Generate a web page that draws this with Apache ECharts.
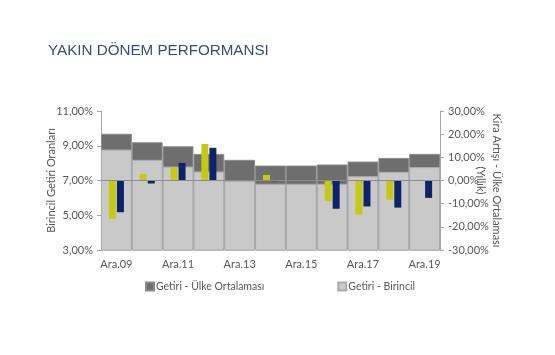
<!DOCTYPE html>
<html>
<head>
<meta charset="utf-8">
<script src="https://cdn.jsdelivr.net/npm/echarts@6/dist/echarts.min.js"></script>
<style>
html,body{margin:0;padding:0;background:#fff;}
#c{width:555px;height:355px;}
</style>
</head>
<body>
<div id="c"></div>
<script>
const categories = ['Ara.09','Ara.10','Ara.11','Ara.12','Ara.13','Ara.14','Ara.15','Ara.16','Ara.17','Ara.18','Ara.19'];
const yieldAverage = [9.69, 9.20, 8.97, 8.53, 8.19, 7.86, 7.86, 7.92, 8.09, 8.30, 8.53];
const yieldPrime   = [8.78, 8.19, 7.80, 7.52, 6.98, 6.81, 6.81, 6.81, 7.25, 7.50, 7.77];
const rentPrime    = [-16.5, 2.9, 5.7, 15.8, 0, 2.4, 0, -8.9, -14.7, -8.3, 0];
const rentAverage  = [-13.7, -1.3, 7.6, 14.1, 0, -0.3, -0.2, -12.2, -11.2, -11.7, -7.5];
const leftTicks = {min: 3, max: 11, interval: 2};
const rightTicks = {min: -30, max: 30, interval: 10};

const font = 'Lato, "Open Sans", sans-serif';
const chart = echarts.init(document.getElementById('c'), null, {renderer: 'canvas'});
const fmt = v => v.toFixed(2).replace('.', ',') + '%';

chart.setOption({
  animation: false,
  backgroundColor: '#ffffff',
  title: {
    text: 'YAKIN DÖNEM PERFORMANSI',
    left: 43, top: 38,
    textStyle: {color: '#34507a', fontSize: 15.2, fontWeight: 'normal', fontFamily: 'Arial, "Liberation Sans", sans-serif'}
  },
  legend: {
    data: ['Getiri - Ülke Ortalaması', 'Getiri - Birincil'],
    left: 140, top: 276,
    itemWidth: 8, itemHeight: 8, itemGap: 73,
    icon: 'rect',
    textStyle: {color: '#595959', fontSize: 10.5, fontFamily: font, padding: [0, 0, 0, -3]}
  },
  grid: {left: 101, right: 115, top: 111, bottom: 105, containLabel: false},
  xAxis: [{
    type: 'category',
    data: categories,
    boundaryGap: true,
    axisLine: {lineStyle: {color: '#a6a6a6'}},
    axisTick: {show: true, alignWithLabel: false, interval: 0, length: 4, lineStyle: {color: '#a6a6a6'}},
    axisLabel: {interval: 1, color: '#595959', fontSize: 11, fontFamily: font, margin: 9}
  }, {
    type: 'category',
    data: categories,
    show: false
  }],
  yAxis: [{
    type: 'value',
    min: leftTicks.min, max: leftTicks.max, interval: leftTicks.interval,
    name: 'Birincil Getiri Oranları',
    nameLocation: 'middle', nameGap: 44, nameMoveOverlap: false,
    nameTextStyle: {color: '#595959', fontSize: 11, fontFamily: font},
    axisLine: {show: true, lineStyle: {color: '#a6a6a6'}},
    axisTick: {show: true, length: 4, lineStyle: {color: '#a6a6a6'}},
    splitLine: {show: false},
    axisLabel: {color: '#595959', fontSize: 11, fontFamily: font, margin: 8, formatter: fmt}
  }, {
    type: 'value',
    position: 'right',
    min: rightTicks.min, max: rightTicks.max, interval: rightTicks.interval,
    name: 'Kira Artışı - Ülke Ortalaması\n(Yıllık)',
    nameLocation: 'middle', nameGap: 33, nameRotate: -90, nameMoveOverlap: false,
    nameTextStyle: {color: '#595959', fontSize: 11, fontFamily: font, lineHeight: 16, align: 'center'},
    axisLine: {show: true, lineStyle: {color: '#a6a6a6'}},
    axisTick: {show: true, length: 4, lineStyle: {color: '#a6a6a6'}},
    splitLine: {show: false},
    axisLabel: {color: '#595959', fontSize: 11, fontFamily: font, margin: 8, formatter: fmt}
  }],
  series: [{
    name: 'Getiri - Ülke Ortalaması',
    type: 'bar',
    xAxisIndex: 0, yAxisIndex: 0,
    data: yieldAverage,
    barGap: '-100%', barCategoryGap: 0,
    itemStyle: {color: '#6e6e6e', borderColor: '#8a8a8a', borderWidth: 1}
  }, {
    name: 'Getiri - Birincil',
    type: 'bar',
    xAxisIndex: 0, yAxisIndex: 0,
    data: yieldPrime,
    barGap: '-100%', barCategoryGap: 0,
    itemStyle: {color: '#c9c9c9', borderColor: '#ababab', borderWidth: 1}
  }, {
    name: 'Kira Artışı - Birincil',
    type: 'bar',
    xAxisIndex: 1, yAxisIndex: 1,
    data: rentPrime,
    barWidth: 7, barGap: '15%',
    itemStyle: {color: '#c6c914'},
    markLine: {
      silent: true, symbol: 'none', label: {show: false},
      lineStyle: {color: '#8c8c8c', type: 'solid', width: 1},
      data: [{yAxis: 0}]
    }
  }, {
    name: 'Kira Artışı - Ülke Ortalaması',
    type: 'bar',
    xAxisIndex: 1, yAxisIndex: 1,
    data: rentAverage,
    barWidth: 7, barGap: '15%',
    itemStyle: {color: '#0d2566'}
  }]
});
</script>
</body>
</html>
